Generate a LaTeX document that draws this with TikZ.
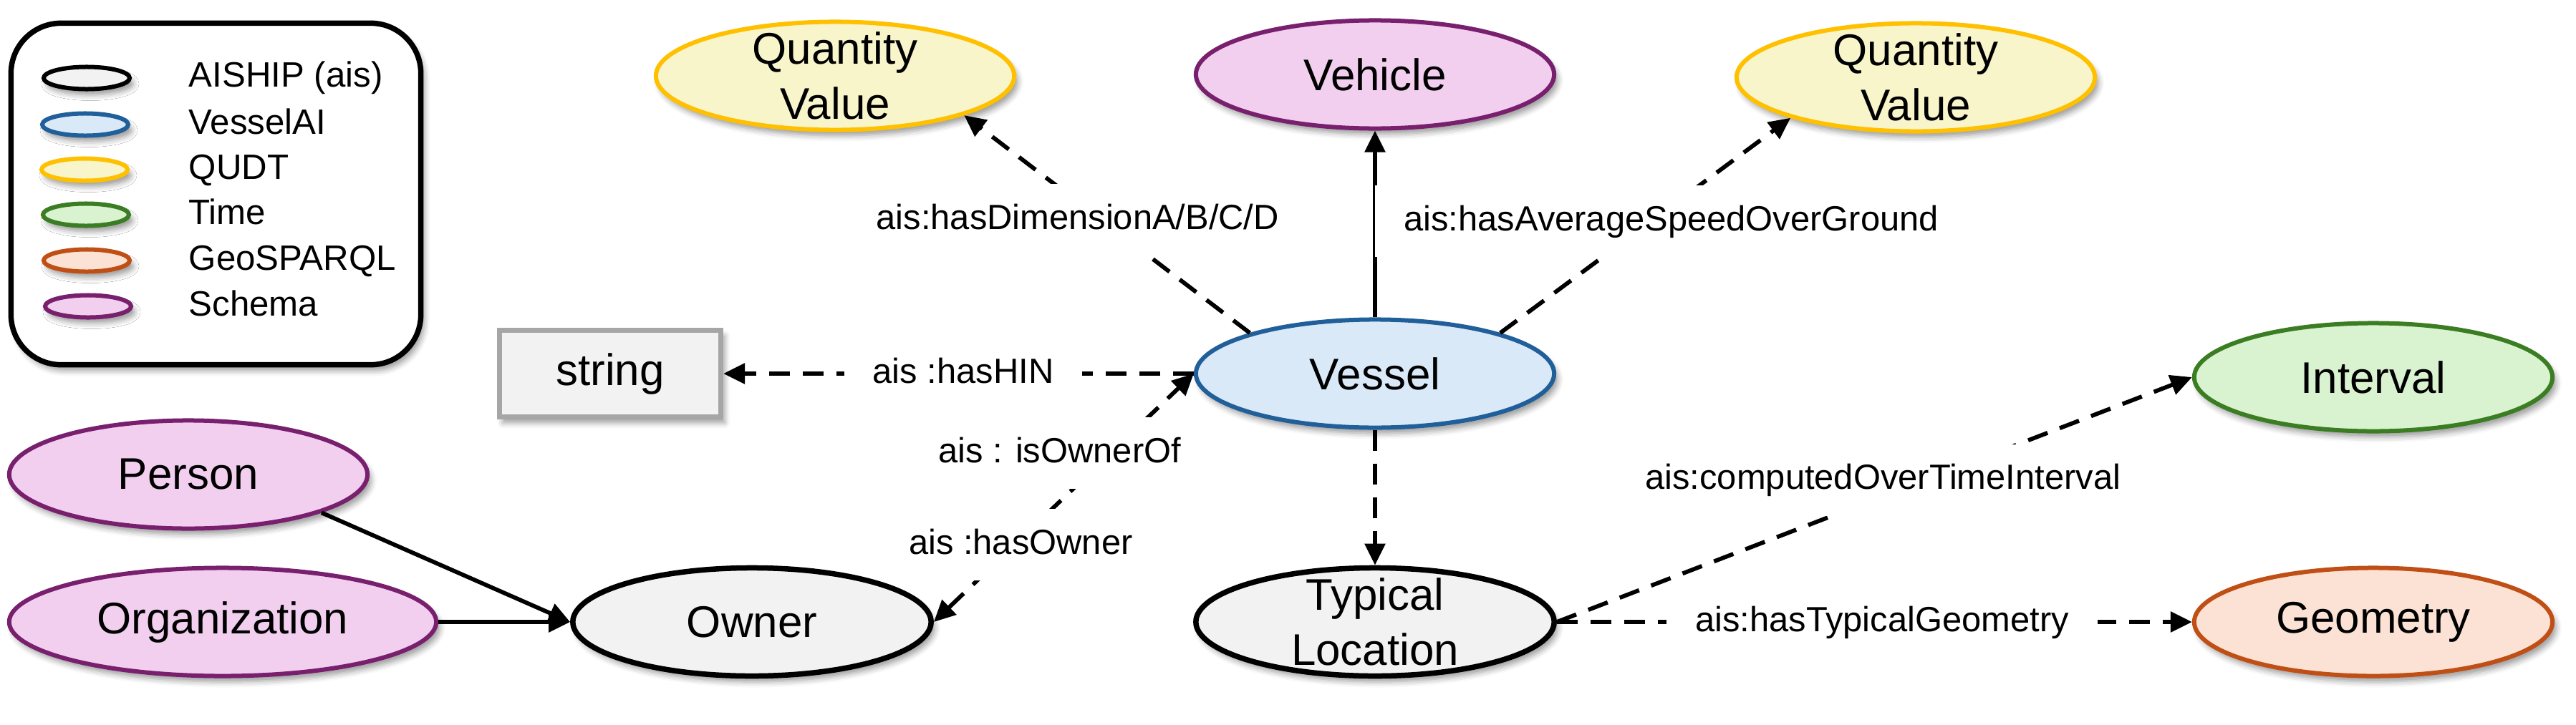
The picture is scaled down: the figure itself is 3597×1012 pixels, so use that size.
\documentclass[tikz,border=0pt]{standalone}
\usepackage{fontspec}
\setmainfont{Liberation Sans}
\usetikzlibrary{arrows.meta,shapes.geometric,shadows.blur}
\definecolor{aisfill}{HTML}{F2F2F2}
\definecolor{vaidraw}{HTML}{215F9A}
\definecolor{vaifill}{HTML}{DAE9F8}
\definecolor{qudtdraw}{HTML}{FFC000}
\definecolor{qudtfill}{HTML}{F8F5CB}
\definecolor{timedraw}{HTML}{3B7D23}
\definecolor{timefill}{HTML}{D9F2D0}
\definecolor{geodraw}{HTML}{C04F15}
\definecolor{geofill}{HTML}{FBE2D5}
\definecolor{schdraw}{HTML}{78206E}
\definecolor{schfill}{HTML}{F2CEEF}
\definecolor{strdraw}{HTML}{A6A6A6}
\newcommand\ndfont{\fontsize{17.6pt}{21.9pt}\selectfont}
\newcommand\lbfont{\fontsize{13.9pt}{16pt}\selectfont}
\newcommand\lgfont{\fontsize{14pt}{16pt}\selectfont}
\begin{document}
\begin{tikzpicture}[x=0.01cm,y=-0.01cm,
  shd/.style={blur shadow={shadow xshift=0.05cm, shadow yshift=-0.08cm, shadow blur radius=0.08cm, shadow opacity=40}},
  cls/.style={ellipse, shd, minimum width=5.0cm, minimum height=1.51cm, inner xsep=0pt, inner ysep=-0.25cm, line width=0.06cm, font=\ndfont, align=center},
  kAis/.style={cls, draw=black, fill=aisfill, line width=0.075cm},
  kVai/.style={cls, draw=vaidraw, fill=vaifill},
  kQudt/.style={cls, draw=qudtdraw, fill=qudtfill},
  kTime/.style={cls, draw=timedraw, fill=timefill},
  kGeo/.style={cls, draw=geodraw, fill=geofill},
  kSch/.style={cls, draw=schdraw, fill=schfill},
  legell/.style={ellipse, shd, minimum width=1.2cm, minimum height=0.31cm, inner sep=0pt, line width=0.06cm},
  legtxt/.style={anchor=base west, inner sep=0pt, font=\lgfont},
  edgeline/.style={line width=0.058cm, -{Triangle[length=0.3cm,width=0.28cm]}},
  dashedge/.style={edgeline, dash pattern=on 0.29cm off 0.18cm},
  lbl/.style={fill=white, font=\lbfont, inner xsep=0.4cm, inner ysep=0.27cm, text height=0.36cm, text depth=0.1cm}
]
\useasboundingbox (0,0) rectangle (3597,1012);

% legend
\node[draw=black, line width=0.075cm, rounded corners=0.7cm, fill=white, shd,
      minimum width=5.72cm, minimum height=4.77cm] (legend) at (301.5,271) {};
\node[legell, draw=black, fill=aisfill] (l1) at (121,109) {};
\node[legell, draw=vaidraw, fill=vaifill] (l2) at (119,174) {};
\node[legell, draw=qudtdraw, fill=qudtfill] (l3) at (118,237) {};
\node[legell, draw=timedraw, fill=timefill] (l4) at (120,300) {};
\node[legell, draw=geodraw, fill=geofill] (l5) at (121,364) {};
\node[legell, draw=schdraw, fill=schfill] (l6) at (123,428) {};
\node[legtxt] (t1) at (263,121) {AISHIP (ais)};
\node[legtxt] (t2) at (263,187) {VesselAI};
\node[legtxt] (t3) at (263,250) {QUDT};
\node[legtxt] (t4) at (263,313) {Time};
\node[legtxt] (t5) at (263,377) {GeoSPARQL};
\node[legtxt] (t6) at (263,441) {Schema};

% class nodes
\node[kQudt] (qv1) at (1166,106) {Quantity\\Value};
\node[kSch] (vehicle) at (1920,104) {Vehicle};
\node[kQudt] (qv2) at (2675,108) {Quantity\\Value};
\node[kVai] (vessel) at (1920,522) {Vessel};
\node[draw=strdraw, fill=aisfill, line width=0.07cm, shd, minimum width=3.09cm, minimum height=1.21cm, font=\ndfont] (string) at (852,522) {string};
\node[kTime] (interval) at (3314,527) {Interval};
\node[kSch] (person) at (263,663) {Person};
\node[kSch, minimum width=5.96cm] (org) at (311,869) {Organization};
\node[kAis] (owner) at (1050,869) {Owner};
\node[kAis] (tl) at (1920,869) {Typical\\Location};
\node[kGeo] (geom) at (3314,869) {Geometry};

% connectors
\draw[edgeline] (vessel.north) -- (vehicle.south);
\draw[edgeline] (person.-16) -- (owner.west);
\draw[edgeline] (org.east) -- (owner.west);
\draw[dashedge] (vessel.162) -- node[lbl, pos=0.52, xshift=-0.33cm] {ais:hasDimensionA/B/C/D} (qv1.-17);
\draw[dashedge] (vessel.18) -- node[lbl, pos=0.52, xshift=0.28cm] {ais:hasAverageSpeedOverGround} (qv2.198);
\draw[dashedge] (vessel.west) -- node[lbl, pos=0.49] {ais :hasHIN} (string.east);
\draw[dashedge, {Triangle[length=0.3cm,width=0.28cm]}-{Triangle[length=0.3cm,width=0.28cm]}] (owner.east) --
   node[lbl, pos=0.31, xshift=0.09cm] {ais :hasOwner}
   node[lbl, pos=0.68, xshift=-0.71cm] {ais : isOwnerOf} (vessel.west);
\draw[dashedge] (vessel.south) -- (tl.north);
\draw[dashedge] (tl.east) -- node[lbl, pos=0.58, xshift=-0.59cm] {ais:computedOverTimeInterval} (interval.west);
\draw[dashedge] (tl.east) -- node[lbl, pos=0.512] {ais:hasTypicalGeometry} (geom.west);
\end{tikzpicture}
\end{document}
